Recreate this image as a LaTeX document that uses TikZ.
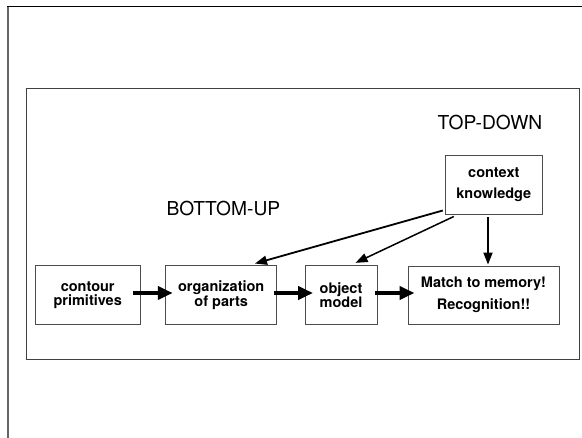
\documentclass[tikz,border=0pt]{standalone}
\usepackage{fontspec}
\setmainfont{TeX Gyre Heros}
\usetikzlibrary{arrows.meta}
\begin{document}
\begin{tikzpicture}[x=1pt,y=-1pt,
  box/.style={draw=black!70,line width=0.9pt,inner sep=0pt,align=center,
    font=\fontsize{14.5}{14.5}\selectfont\bfseries},
  widebox/.style={box,font=\fontsize{14.5}{21.5}\selectfont\bfseries},
  bigarrow/.style={line width=4.5pt,-{Triangle[length=15pt,width=13pt]}},
  thinarrow/.style={line width=1.8pt,-{Triangle[length=12pt,width=9pt]}},
  heading/.style={inner sep=0pt,font=\fontsize{19.2}{19.2}\selectfont},
  frame/.style={draw=black!75,line width=1pt}]
\useasboundingbox (0,0) rectangle (582,438);
% outer frame
\draw[black!60,line width=1.6pt] (7.7,438) -- (7.7,7);
\draw[black,line width=1pt] (7,7) -- (582,7);
% inner frame
\draw[frame] (26,88.7) rectangle (579,360);
% headings
\node[heading] (td) at (490,122.5) {TOP-DOWN};
\node[heading] (bu) at (223.4,208.8) {BOTTOM-UP};
% boxes
\node[box,minimum width=105.3pt,minimum height=58.6pt] (contour) at (87.7,295) {contour\\primitives};
\node[box,minimum width=111pt,minimum height=58.6pt] (org) at (221.2,295) {organization\\of parts};
\node[box,minimum width=72pt,minimum height=58.6pt] (object) at (341,295) {object\\model};
\node[widebox,minimum width=151pt,minimum height=58pt] (match) at (483.5,295) {Match to memory!\\Recognition!!};
\node[widebox,minimum width=96.3pt,minimum height=58.3pt] (context) at (493.8,184.9) {context\\knowledge};
% bottom-up arrows
\draw[bigarrow] ([shift={(-7.6pt,2pt)}]contour.east) -- ([shift={(7.5pt,2pt)}]org.west);
\draw[bigarrow] ([shift={(-2.7pt,2pt)}]org.east) -- ([shift={(8.5pt,2pt)}]object.west);
\draw[bigarrow] ([shift={(-2.7pt,2pt)}]object.east) -- ([shift={(7pt,2pt)}]match.west);
% top-down arrows
\draw[thinarrow] ([shift={(-2.4pt,4pt)}]context.south west) -- ([shift={(33.8pt,1.7pt)}]org.north);
\draw[thinarrow,line width=1.5pt] ([shift={(8.6pt,-2pt)}]context.south west) -- ([shift={(14.5pt,2.4pt)}]object.north);
\draw[thinarrow] ([shift={(-5.8pt,-3pt)}]context.south) -- ([shift={(4.5pt,1pt)}]match.north);
\end{tikzpicture}
\end{document}
